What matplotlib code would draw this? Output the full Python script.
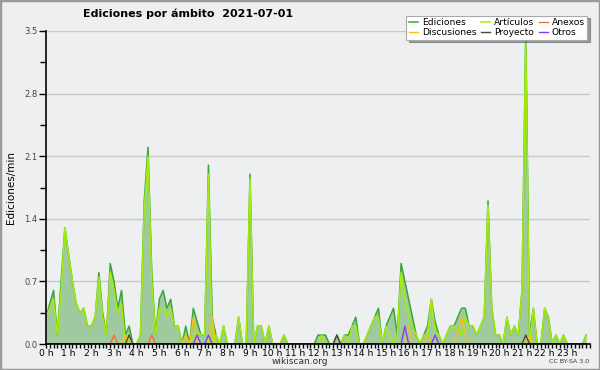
import numpy as np
import matplotlib
matplotlib.use('Agg')
import matplotlib.pyplot as plt
from matplotlib.ticker import MultipleLocator

# 10-minute samples over the day (144 slots), edits per minute
ediciones = [
    0.3, 0.45, 0.6, 0.1, 0.7, 1.3, 1.0, 0.7, 0.45, 0.35, 0.4, 0.2,
    0.2, 0.3, 0.8, 0.35, 0.1, 0.9, 0.7, 0.4, 0.6, 0.1, 0.2, 0,
    0, 0.1, 1.6, 2.2, 0.8, 0.1, 0.5, 0.6, 0.4, 0.5, 0.2, 0.2,
    0, 0.2, 0, 0.4, 0.25, 0.1, 0.1, 2.0, 0.3, 0.1, 0, 0.2,
    0, 0, 0, 0.3, 0, 0, 1.9, 0, 0.2, 0.2, 0, 0.2,
    0, 0, 0, 0.1, 0, 0, 0, 0, 0, 0, 0, 0,
    0.1, 0.1, 0.1, 0, 0, 0.1, 0, 0.1, 0.1, 0.2, 0.3, 0,
    0, 0.1, 0.2, 0.3, 0.4, 0, 0.2, 0.3, 0.4, 0.1, 0.9, 0.7,
    0.5, 0.3, 0.1, 0, 0.1, 0.2, 0.5, 0.25, 0.1, 0, 0.1, 0.2,
    0.2, 0.3, 0.4, 0.4, 0.2, 0.2, 0.1, 0.2, 0.3, 1.6, 0.4, 0.1,
    0.1, 0, 0.3, 0.1, 0.2, 0.1, 0.6, 3.5, 0.1, 0.4, 0, 0,
    0.4, 0.3, 0, 0.1, 0, 0.1, 0, 0, 0, 0, 0, 0.1,
]
articulos = [
    0.3, 0.4, 0.5, 0.1, 0.6, 1.3, 1.0, 0.7, 0.45, 0.35, 0.4, 0.2,
    0.2, 0.3, 0.75, 0.3, 0.1, 0.8, 0.6, 0.35, 0.45, 0, 0.1, 0,
    0, 0.1, 1.5, 2.1, 0.7, 0.1, 0.4, 0.4, 0.3, 0.4, 0.2, 0.2,
    0, 0.1, 0, 0.1, 0.15, 0.1, 0.1, 1.9, 0, 0.1, 0, 0.2,
    0, 0, 0, 0.3, 0, 0, 1.85, 0, 0.2, 0.2, 0, 0.2,
    0, 0, 0, 0.1, 0, 0, 0, 0, 0, 0, 0, 0,
    0, 0.1, 0, 0, 0, 0, 0, 0.1, 0, 0.2, 0.2, 0,
    0, 0.1, 0.2, 0.3, 0.3, 0, 0.2, 0.1, 0, 0.1, 0.8, 0.5,
    0.3, 0.2, 0.1, 0, 0.1, 0.1, 0.5, 0.15, 0.1, 0, 0.1, 0.2,
    0.2, 0.15, 0.1, 0.3, 0.2, 0.2, 0.1, 0.2, 0.3, 1.55, 0.4, 0.1,
    0.1, 0, 0.3, 0.1, 0.2, 0.1, 0.6, 3.4, 0, 0.4, 0, 0,
    0.4, 0.3, 0, 0.1, 0, 0.1, 0, 0, 0, 0, 0, 0.1,
]

# small series: slot numbers with non-zero values
anexos_slots = [18, 28]
anexos_vals = [0.1, 0.1]
discusiones_slots = [21, 37, 39, 44, 96, 101, 109, 110, 111, 128]
discusiones_vals = [0.1, 0.1, 0.3, 0.3, 0.2, 0.1, 0.15, 0.3, 0.1, 0.1]
proyecto_slots = [22, 77, 127]
proyecto_vals = [0.1, 0.1, 0.1]
otros_slots = [40, 43, 95, 103]
otros_vals = [0.1, 0.1, 0.2, 0.1]

hour_labels = ['%d h' % h for h in range(24)]

n = len(ediciones)
hours = np.arange(n) / 6.0


def sparse(slots, vals):
    s = np.zeros(n)
    s[slots] = vals
    return s


bg = '#eeeff1'
fig = plt.figure(figsize=(6, 3.7), dpi=100, facecolor=bg)
ax = fig.add_axes([46 / 600, 26 / 370, 544 / 600, 313 / 370], facecolor=bg)

ax.fill_between(hours, ediciones, color='#9fca9f', lw=0, zorder=2)
ax.plot(hours, ediciones, color='#3aa53a', lw=1.1, zorder=3, label='Ediciones')
ax.plot(hours, articulos, color='#a4ec0c', lw=1.1, zorder=3, label='Artículos')
ax.plot(hours, sparse(anexos_slots, anexos_vals), color='#f5702a', lw=1, zorder=3, label='Anexos')
ax.plot(hours, sparse(discusiones_slots, discusiones_vals), color='#f2c21c', lw=1, zorder=3, label='Discusiones')
ax.plot(hours, sparse(proyecto_slots, proyecto_vals), color='#4a4a3a', lw=1, zorder=3, label='Proyecto')
ax.plot(hours, sparse(otros_slots, otros_vals), color='#8a3cf0', lw=1, zorder=3, label='Otros')

ax.set_xlim(0, 24)
ax.set_ylim(0, 3.5)
ax.set_xticks(np.arange(24))
ax.set_xticklabels(hour_labels)
ax.xaxis.set_minor_locator(MultipleLocator(1 / 6))
ax.set_yticks(np.arange(0, 3.51, 0.7))
ax.set_yticklabels(['%.1f' % v for v in np.arange(0, 3.51, 0.7)])
ax.yaxis.set_minor_locator(MultipleLocator(0.35))
ax.tick_params(axis='x', which='both', direction='out', length=3, width=1, labelsize=6.6, pad=0.5)
ax.tick_params(axis='y', which='major', direction='out', length=5, width=1, labelsize=6, labelcolor='#444444', pad=1)
ax.tick_params(axis='y', which='minor', direction='out', length=4, width=1)
ax.grid(axis='y', which='major', color='#c8c8c8', lw=1)
ax.set_axisbelow(True)
for s in ['top', 'right']:
    ax.spines[s].set_visible(False)
for s in ['left', 'bottom']:
    ax.spines[s].set_linewidth(1.2)
    ax.spines[s].set_zorder(6)

ax.set_ylabel('Ediciones/min', fontsize=7.5, labelpad=6)

fig.text(0.313, 0.962, 'Ediciones por ámbito  2021-07-01', ha='center', va='center',
         fontsize=8, fontweight='bold')
fig.text(0.5, 0.022, 'wikiscan.org', ha='center', va='center', fontsize=6.5, color='#333333')
fig.text(0.982, 0.022, 'CC BY-SA 3.0', ha='right', va='center', fontsize=4.5, color='#333333')

h, l = ax.get_legend_handles_labels()
order = [0, 3, 1, 4, 2, 5]
leg = ax.legend([h[i] for i in order], [l[i] for i in order], ncol=3,
                loc='upper right', bbox_to_anchor=(592 / 600, 1 - 11 / 370),
                bbox_transform=fig.transFigure, fontsize=6.6, frameon=True,
                fancybox=False, shadow=True, handlelength=1.0, handletextpad=0.4,
                columnspacing=0.5, labelspacing=0.05, borderpad=0.3)
leg.get_frame().set_edgecolor('#aaaaaa')
leg.get_frame().set_linewidth(0.8)
leg.set_zorder(10)

fig.patches.append(plt.Rectangle((0, 0), 1, 1, transform=fig.transFigure, fill=False,
                                 edgecolor='#9a9a9a', linewidth=2.5))
fig.savefig('out.png', dpi=100, facecolor=bg)
